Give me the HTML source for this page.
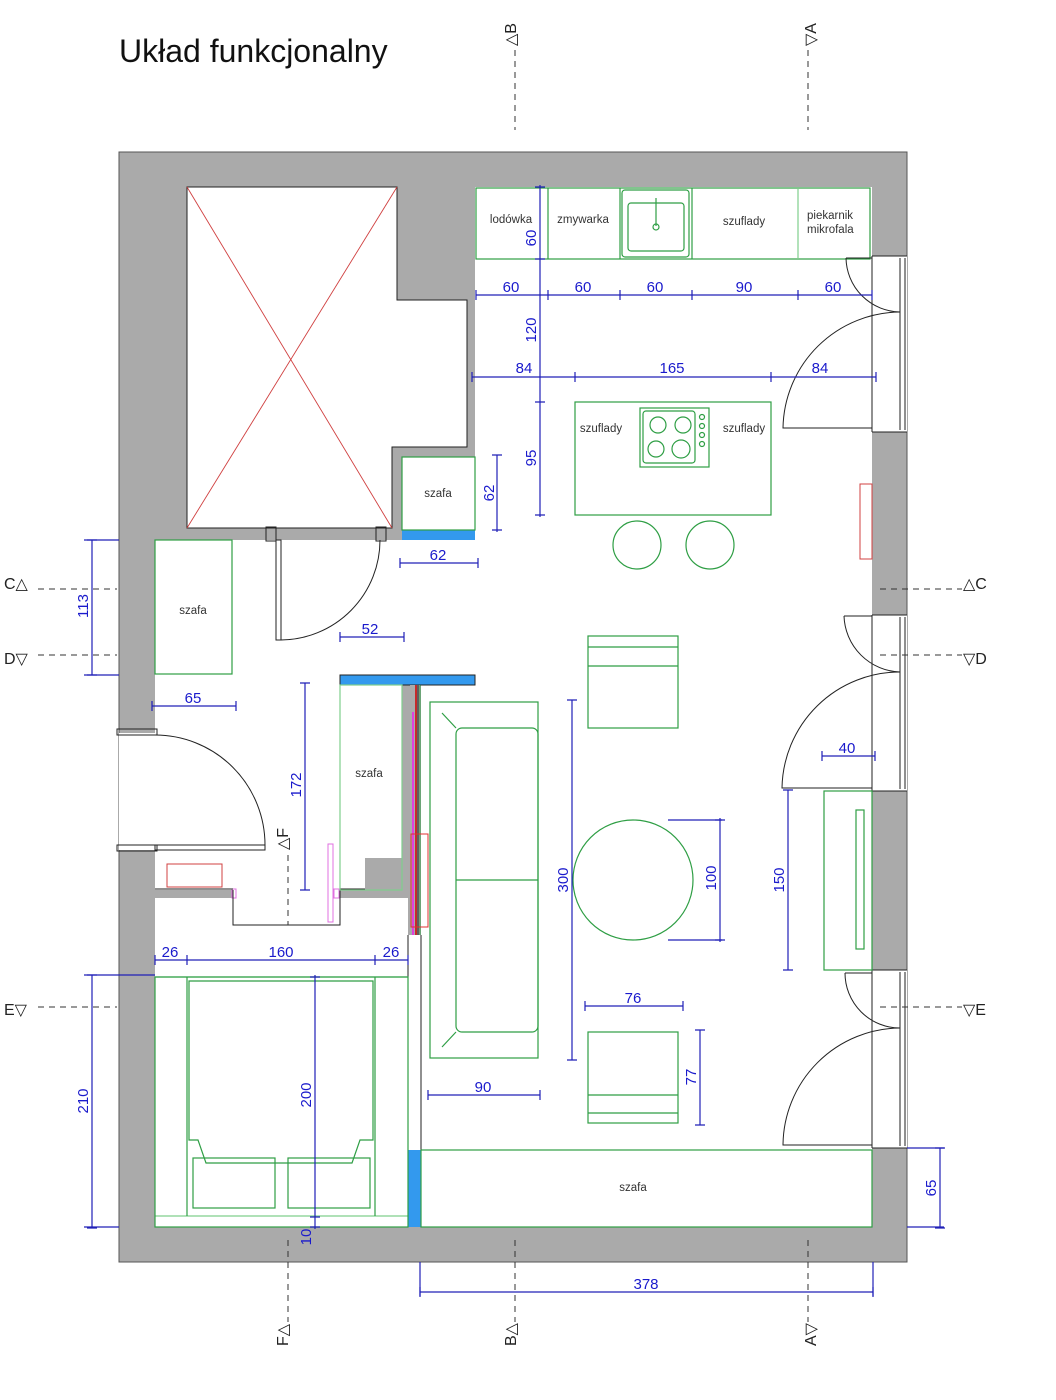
<!DOCTYPE html>
<html><head><meta charset="utf-8"><style>
html,body{margin:0;padding:0;background:#fff;}
svg{display:block;font-family:"Liberation Sans",sans-serif;}
.g{fill:none;stroke:#2e9e44;stroke-width:1.2}
.lg{fill:none;stroke:#7fcf8c;stroke-width:1.2}
.k{fill:none;stroke:#222;stroke-width:1}
.d{stroke:#2020b8;stroke-width:1.2;fill:none}
.dt{fill:#1a1acc;font-size:15px;text-anchor:middle}
.lb{fill:#333;font-size:11.5px;text-anchor:middle}
.sec{stroke:#333;stroke-width:1;stroke-dasharray:6,5;fill:none}
.st{fill:#222;font-size:16px}
</style></head><body>
<svg width="1056" height="1400" viewBox="0 0 1056 1400" xmlns="http://www.w3.org/2000/svg">
<text x="119" y="62" font-size="32" fill="#111">Układ funkcjonalny</text>

<rect x="119" y="152" width="788" height="1110" fill="#aaaaaa" stroke="#555" stroke-width="1"/>
<g fill="#fff">
<rect x="475" y="187" width="397" height="1040"/>
<rect x="421" y="685" width="55" height="542"/>
<rect x="155" y="540" width="320" height="145"/>
<rect x="155" y="685" width="185" height="205"/>
<rect x="340" y="685" width="62" height="173"/>
<rect x="340" y="858" width="25" height="32"/>
<rect x="233" y="890" width="107" height="35"/>
<rect x="155" y="898" width="253" height="329"/>
<rect x="408" y="935" width="13" height="292"/>
<rect x="402" y="457" width="73" height="73"/>
<polygon points="187,187 397,187 397,300 467,300 467,447 392,447 392,528 187,528"/>
<rect x="119" y="733" width="36" height="117"/>
<rect x="872" y="256" width="35" height="176"/>
<rect x="872" y="615" width="35" height="176"/>
<rect x="872" y="970" width="35" height="178"/>
</g>
<polygon points="187,187 397,187 397,300 467,300 467,447 392,447 392,528 187,528" class="k"/>
<line x1="187" y1="187" x2="392" y2="528" stroke="#d04040" stroke-width="0.9"/>
<line x1="397" y1="187" x2="187" y2="528" stroke="#d04040" stroke-width="0.9"/>
<rect x="402" y="530" width="73" height="10" fill="#3399ee"/>
<rect x="340" y="675" width="135" height="10" fill="#3399ee" stroke="#222" stroke-width="1"/>
<rect x="408" y="1150" width="13" height="77" fill="#3399ee"/>
<rect x="410" y="685" width="10" height="250" fill="#aaa"/>
<line x1="413" y1="712" x2="413" y2="935" stroke="#e040e0" stroke-width="2"/>
<line x1="416" y1="685" x2="416" y2="935" stroke="#d00000" stroke-width="1.5"/>
<line x1="418" y1="685" x2="418" y2="935" stroke="#111" stroke-width="1"/>
<line x1="420" y1="685" x2="420" y2="935" stroke="#2e9e44" stroke-width="1"/>
<rect x="411" y="834" width="17" height="93" fill="none" stroke="#e03030" stroke-width="1"/>
<line x1="408" y1="935" x2="408" y2="1227" class="k"/>
<line x1="421" y1="935" x2="421" y2="1227" class="k"/>
<rect x="328" y="844" width="5" height="78" fill="none" stroke="#e070e0"/>
<rect x="232" y="889" width="4" height="9" fill="none" stroke="#e070e0"/>
<rect x="334" y="889" width="5" height="9" fill="none" stroke="#e070e0"/>
<rect x="167" y="864" width="55" height="23" fill="none" stroke="#d04040"/>
<polyline points="233,890 233,925 340,925 340,890" class="k"/>
<line x1="155" y1="889" x2="233" y2="889" class="k"/>
<line x1="340" y1="889" x2="365" y2="889" class="k"/>

<rect x="476" y="188" width="394" height="71" class="g"/>
<line x1="548" y1="188" x2="548" y2="259" class="g"/>
<line x1="620" y1="188" x2="620" y2="259" class="g"/>
<line x1="692" y1="188" x2="692" y2="259" class="g"/>
<line x1="798" y1="188" x2="798" y2="259" class="lg"/>
<rect x="622" y="190" width="67" height="67" rx="3" class="g"/>
<rect x="628" y="203" width="56" height="48" rx="3" class="g"/>
<line x1="656" y1="198" x2="656" y2="226" class="g" stroke-width="2"/>
<circle cx="656" cy="227" r="3" class="g"/>
<text x="511" y="223" class="lb">lodówka</text>
<text x="583" y="223" class="lb">zmywarka</text>
<text x="744" y="225" class="lb">szuflady</text>
<text x="807" y="219" class="lb" style="text-anchor:start">piekarnik</text>
<text x="807" y="233" class="lb" style="text-anchor:start">mikrofala</text>

<rect x="575" y="402" width="196" height="113" class="g"/>
<rect x="640" y="408" width="69" height="59" class="g"/>
<rect x="643" y="411" width="52" height="52" rx="3" class="g"/>
<circle cx="658" cy="425" r="8" class="g"/><circle cx="683" cy="425" r="8" class="g"/>
<circle cx="656" cy="449" r="8" class="g"/><circle cx="681" cy="449" r="9" class="g"/>
<circle cx="702" cy="417" r="2.5" class="g"/><circle cx="702" cy="426" r="2.5" class="g"/><circle cx="702" cy="435" r="2.5" class="g"/><circle cx="702" cy="444" r="2.5" class="g"/>
<text x="601" y="432" class="lb">szuflady</text>
<text x="744" y="432" class="lb">szuflady</text>
<circle cx="637" cy="545" r="24" class="g"/>
<circle cx="710" cy="545" r="24" class="g"/>

<rect x="402" y="457" width="73" height="73" class="g"/>
<text x="438" y="497" class="lb">szafa</text>

<rect x="155" y="540" width="77" height="134" class="g"/>
<text x="193" y="614" class="lb">szafa</text>
<rect x="340" y="685" width="62" height="205" class="lg"/>
<text x="369" y="777" class="lb">szafa</text>

<rect x="266" y="527" width="10" height="14" class="k" fill="#fff"/>
<rect x="376" y="527" width="10" height="14" class="k" fill="#fff"/>
<rect x="276" y="540" width="5" height="100" class="k"/>
<path d="M281,640 A100,100 0 0 0 380,540" class="k"/>
<rect x="117" y="729" width="40" height="6" class="k" fill="#fff"/>
<rect x="117" y="845" width="40" height="6" class="k" fill="#fff"/>
<rect x="155" y="845" width="110" height="5" class="k"/>
<path d="M155,735 A110,110 0 0 1 265,845" class="k"/>
<g class="k">
<line x1="872" y1="256" x2="872" y2="432"/><line x1="900" y1="258" x2="900" y2="430"/><line x1="905" y1="258" x2="905" y2="430"/>
<line x1="872" y1="256" x2="907" y2="256"/><line x1="872" y1="432" x2="907" y2="432"/>
<path d="M846,258 L872,258 M846,258 A55,55 0 0 0 900,312"/>
<path d="M900,312 A118,118 0 0 0 783,428 L872,428"/>
<line x1="872" y1="615" x2="872" y2="791"/><line x1="900" y1="617" x2="900" y2="789"/><line x1="905" y1="617" x2="905" y2="789"/>
<line x1="872" y1="615" x2="907" y2="615"/><line x1="872" y1="791" x2="907" y2="791"/>
<path d="M844,616 L872,616 M844,616 A58,58 0 0 0 900,672"/>
<path d="M900,672 A118,118 0 0 0 782,788 L872,788"/>
<line x1="872" y1="970" x2="872" y2="1148"/><line x1="900" y1="972" x2="900" y2="1146"/><line x1="905" y1="972" x2="905" y2="1146"/>
<line x1="872" y1="970" x2="907" y2="970"/><line x1="872" y1="1148" x2="907" y2="1148"/>
<path d="M845,973 L872,973 M845,973 A55,55 0 0 0 900,1028"/>
<path d="M900,1028 A118,118 0 0 0 783,1145 L872,1145"/>
</g>
<rect x="860" y="484" width="12" height="75" fill="none" stroke="#d04040"/>

<rect x="430" y="702" width="108" height="356" class="g"/>
<rect x="456" y="728" width="82" height="304" rx="6" class="g"/>
<line x1="456" y1="880" x2="538" y2="880" class="g"/>
<line x1="442" y1="713" x2="456" y2="728" class="g"/>
<line x1="442" y1="1047" x2="456" y2="1032" class="g"/>
<rect x="588" y="636" width="90" height="92" class="g"/>
<line x1="588" y1="647" x2="678" y2="647" class="g"/><line x1="588" y1="666" x2="678" y2="666" class="g"/>
<circle cx="633" cy="880" r="60" class="g"/>
<rect x="588" y="1032" width="90" height="91" class="g"/>
<line x1="588" y1="1095" x2="678" y2="1095" class="g"/><line x1="588" y1="1113" x2="678" y2="1113" class="g"/>
<rect x="824" y="791" width="48" height="179" class="g"/>
<rect x="856" y="810" width="8" height="139" class="g"/>

<line x1="155" y1="977" x2="408" y2="977" class="lg"/>
<line x1="155" y1="1216" x2="408" y2="1216" class="lg"/>
<rect x="155" y="977" width="253" height="250" class="g"/>
<line x1="187" y1="977" x2="187" y2="1216" class="g"/>
<line x1="375" y1="977" x2="375" y2="1216" class="g"/>
<path d="M189,981 L373,981 L373,1140 L360,1140 L352,1163 L206,1163 L198,1140 L189,1140 Z" class="g"/>
<rect x="193" y="1158" width="82" height="50" class="g"/>
<rect x="288" y="1158" width="82" height="50" class="g"/>
<rect x="421" y="1150" width="451" height="77" class="g"/>
<text x="633" y="1191" class="lb">szafa</text>

<g class="d">
<line x1="476" y1="295" x2="872" y2="295"/>
<line x1="540" y1="185" x2="540" y2="517"/>
<line x1="472" y1="377" x2="876" y2="377"/>
<line x1="497" y1="455" x2="497" y2="532"/>
<line x1="400" y1="563" x2="478" y2="563"/>
<line x1="340" y1="637" x2="404" y2="637"/>
<line x1="92" y1="540" x2="92" y2="675"/>
<line x1="152" y1="706" x2="236" y2="706"/>
<line x1="305" y1="683" x2="305" y2="890"/>
<line x1="155" y1="960" x2="408" y2="960"/>
<line x1="315" y1="975" x2="315" y2="1229"/>
<line x1="92" y1="975" x2="92" y2="1228"/>
<line x1="428" y1="1095" x2="540" y2="1095"/>
<line x1="572" y1="700" x2="572" y2="1060"/>
<line x1="668" y1="820" x2="722" y2="820"/><line x1="668" y1="940" x2="722" y2="940"/>
<line x1="720" y1="818" x2="720" y2="942"/>
<line x1="585" y1="1006" x2="683" y2="1006"/>
<line x1="700" y1="1030" x2="700" y2="1125"/>
<line x1="788" y1="790" x2="788" y2="970"/>
<line x1="822" y1="756" x2="875" y2="756"/>
<line x1="940" y1="1148" x2="940" y2="1228"/>
<line x1="907" y1="1148" x2="944" y2="1148"/><line x1="907" y1="1227" x2="944" y2="1227"/>
<line x1="420" y1="1292" x2="873" y2="1292"/>
<line x1="420" y1="1262" x2="420" y2="1296"/><line x1="873" y1="1262" x2="873" y2="1296"/>
<line x1="84" y1="540" x2="119" y2="540"/><line x1="84" y1="675" x2="119" y2="675"/>
<line x1="84" y1="975" x2="155" y2="975"/><line x1="84" y1="1227" x2="119" y2="1227"/>
</g>
<g class="d" stroke-width="1">
<path d="M476,290v10M548,290v10M620,290v10M692,290v10M798,290v10M872,290v10"/>
<path d="M472,372v10M575,372v10M771,372v10M876,372v10"/>
<path d="M535,187h10M535,259h10M535,402h10M535,515h10"/>
<path d="M492,455h10M492,530h10M400,558v10M478,558v10M340,632v10M404,632v10"/>
<path d="M87,540h10M87,675h10M152,701v10M236,701v10M300,683h10M300,890h10"/>
<path d="M155,955v10M187,955v10M375,955v10M408,955v10M310,977h10M310,1217h10M310,1227h10"/>
<path d="M87,975h10M87,1228h10M428,1090v10M540,1090v10M567,700h10M567,1060h10M715,820h10M715,940h10"/>
<path d="M585,1001v10M683,1001v10M695,1030h10M695,1125h10M783,790h10M783,970h10M822,751v10M875,751v10M935,1148h10M935,1228h10M420,1287v10M873,1287v10"/>
</g>
<g class="dt">
<text x="511" y="292">60</text><text x="583" y="292">60</text><text x="655" y="292">60</text><text x="744" y="292">90</text><text x="833" y="292">60</text>
<text x="524" y="373">84</text><text x="672" y="373">165</text><text x="820" y="373">84</text>
<text x="438" y="560">62</text><text x="370" y="634">52</text><text x="193" y="703">65</text>
<text x="170" y="957">26</text><text x="281" y="957">160</text><text x="391" y="957">26</text>
<text x="483" y="1092">90</text><text x="633" y="1003">76</text><text x="847" y="753">40</text><text x="646" y="1289">378</text>
<text transform="translate(536,238) rotate(-90)">60</text>
<text transform="translate(536,330) rotate(-90)">120</text>
<text transform="translate(536,458) rotate(-90)">95</text>
<text transform="translate(494,493) rotate(-90)">62</text>
<text transform="translate(88,606) rotate(-90)">113</text>
<text transform="translate(301,785) rotate(-90)">172</text>
<text transform="translate(311,1095) rotate(-90)">200</text>
<text transform="translate(311,1237) rotate(-90)">10</text>
<text transform="translate(88,1101) rotate(-90)">210</text>
<text transform="translate(568,880) rotate(-90)">300</text>
<text transform="translate(716,878) rotate(-90)">100</text>
<text transform="translate(696,1077) rotate(-90)">77</text>
<text transform="translate(784,880) rotate(-90)">150</text>
<text transform="translate(936,1188) rotate(-90)">65</text>
</g>

<g class="sec">
<line x1="515" y1="50" x2="515" y2="130"/><line x1="515" y1="1240" x2="515" y2="1322"/>
<line x1="808" y1="50" x2="808" y2="130"/><line x1="808" y1="1240" x2="808" y2="1322"/>
<line x1="288" y1="855" x2="288" y2="925"/><line x1="288" y1="1240" x2="288" y2="1322"/>
<line x1="38" y1="589" x2="117" y2="589"/><line x1="880" y1="589" x2="962" y2="589"/>
<line x1="38" y1="655" x2="117" y2="655"/><line x1="880" y1="655" x2="962" y2="655"/>
<line x1="38" y1="1007" x2="117" y2="1007"/><line x1="880" y1="1007" x2="962" y2="1007"/>
</g>
<g class="st">
<text transform="translate(516,46) rotate(-90)">△B</text>
<text transform="translate(816,46) rotate(-90)">▽A</text>
<text transform="translate(516,1346) rotate(-90)">B△</text>
<text transform="translate(816,1346) rotate(-90)">A▽</text>
<text transform="translate(288,850) rotate(-90)">△F</text>
<text transform="translate(288,1346) rotate(-90)">F△</text>
<text x="4" y="589">C△</text><text x="963" y="589">△C</text>
<text x="4" y="664">D▽</text><text x="963" y="664">▽D</text>
<text x="4" y="1015">E▽</text><text x="963" y="1015">▽E</text>
</g>
</svg>
</body></html>
